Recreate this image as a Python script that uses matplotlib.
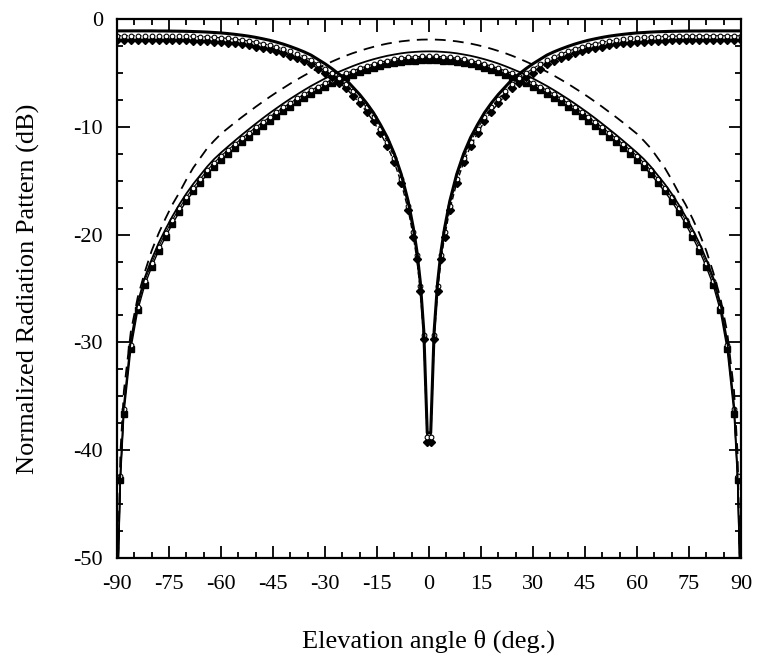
import matplotlib
matplotlib.use('Agg')
import matplotlib.pyplot as plt
from matplotlib.ticker import MultipleLocator

plt.rcParams['font.family'] = ['Liberation Serif', 'DejaVu Serif']
plt.rcParams['axes.unicode_minus'] = False

# The patterns are symmetric about broadside, so only 0..90 deg is listed.
dome_theta = [0, 2, 4, 6, 8, 10, 12, 14, 16, 18, 20, 22, 24, 26, 28, 30,
              32, 34, 36, 38, 40, 42, 44, 46, 48, 50, 52, 54, 56, 58, 60,
              62, 64, 66, 68, 70, 72, 74, 76, 78, 80, 82, 84, 86, 88, 89, 90]
dome_dashed = [-1.90, -1.91, -1.94, -2.00, -2.07, -2.17, -2.28, -2.42, -2.58, -2.76,
               -2.96, -3.17, -3.41, -3.67, -3.95, -4.24, -4.56, -4.89, -5.24, -5.61,
               -5.99, -6.40, -6.81, -7.24, -7.69, -8.15, -8.63, -9.11, -9.61, -10.13,
               -10.65, -11.3, -12.0, -12.9, -13.8, -14.9, -16.1, -17.2, -18.5, -19.9,
               -21.5, -23.5, -25.8, -29.0, -34.5, -40.2, -55.0]
dome_solid = [-3.00, -3.01, -3.05, -3.10, -3.18, -3.29, -3.41, -3.56, -3.73, -3.92,
              -4.13, -4.37, -4.63, -4.90, -5.20, -5.52, -5.86, -6.21, -6.59, -6.99,
              -7.40, -7.83, -8.28, -8.74, -9.22, -9.72, -10.23, -10.75, -11.29, -11.84,
              -12.40, -13.0, -13.7, -14.5, -15.3, -16.2, -17.2, -18.3, -19.5, -20.8,
              -22.3, -24.0, -26.3, -29.8, -35.8, -42.0, -55.0]
dome_open = [-3.45, -3.46, -3.50, -3.55, -3.63, -3.73, -3.85, -4.00, -4.17, -4.36,
             -4.57, -4.80, -5.05, -5.32, -5.62, -5.93, -6.26, -6.61, -6.98, -7.37,
             -7.78, -8.20, -8.64, -9.10, -9.57, -10.06, -10.56, -11.08, -11.61, -12.15,
             -12.70, -13.35, -14.05, -14.85, -15.65, -16.55, -17.55, -18.65, -19.85, -21.15,
             -22.65, -24.3, -26.7, -30.2, -36.2, -42.4, -55.0]
dome_filled = [-3.80, -3.81, -3.85, -3.90, -3.98, -4.08, -4.20, -4.35, -4.52, -4.71,
               -4.92, -5.15, -5.40, -5.67, -5.97, -6.28, -6.61, -6.96, -7.33, -7.72,
               -8.13, -8.55, -8.99, -9.45, -9.92, -10.41, -10.91, -11.43, -11.95, -12.50,
               -13.05, -13.7, -14.4, -15.2, -16.0, -16.9, -17.9, -19.0, -20.2, -21.5,
               -23.0, -24.7, -27.0, -30.6, -36.6, -42.8, -55.0]

null_theta = [0.5, 1.5, 2.5, 3.5, 4.5, 6, 8, 10, 12, 14, 16, 18, 20, 22, 24, 26,
              28, 30, 32, 34, 36, 38, 40, 42, 44, 46, 48, 50, 52, 54, 56, 58, 60,
              62, 64, 66, 68, 70, 72, 74, 76, 78, 80, 82, 84, 86, 88, 90]
null_solid = [-38.4, -28.9, -24.4, -21.5, -19.4, -16.9, -14.4, -12.5, -11.0, -9.8,
              -8.7, -7.8, -7.0, -6.3, -5.6, -5.1, -4.6, -4.15, -3.75, -3.35,
              -3.05, -2.79, -2.55, -2.33, -2.14, -1.97, -1.83, -1.70, -1.59, -1.50,
              -1.42, -1.35, -1.29, -1.25, -1.21, -1.18, -1.16, -1.14, -1.13, -1.12,
              -1.11, -1.11, -1.10, -1.10, -1.10, -1.10, -1.10, -1.10]
null_open = [-38.8, -29.3, -24.8, -21.9, -19.8, -17.3, -14.8, -12.9, -11.4, -10.2,
             -9.1, -8.2, -7.4, -6.7, -6.0, -5.5, -5.0, -4.6, -4.2, -3.8,
             -3.5, -3.24, -3.0, -2.78, -2.59, -2.42, -2.28, -2.15, -2.04, -1.95,
             -1.87, -1.80, -1.74, -1.70, -1.66, -1.63, -1.61, -1.59, -1.58, -1.57,
             -1.56, -1.56, -1.55, -1.55, -1.55, -1.55, -1.55, -1.55]
null_filled = [-39.2, -29.7, -25.2, -22.3, -20.2, -17.7, -15.2, -13.3, -11.8, -10.6,
               -9.5, -8.6, -7.8, -7.1, -6.4, -5.9, -5.4, -5.0, -4.6, -4.2,
               -3.9, -3.64, -3.4, -3.18, -2.99, -2.82, -2.68, -2.55, -2.44, -2.35,
               -2.27, -2.20, -2.14, -2.10, -2.06, -2.03, -2.01, -1.99, -1.98, -1.97,
               -1.96, -1.96, -1.95, -1.95, -1.95, -1.95, -1.95, -1.95]

x_ticks = [-90, -75, -60, -45, -30, -15, 0, 15, 30, 45, 60, 75, 90]
y_ticks = [0, -10, -20, -30, -40, -50]


def mirror(theta, vals):
    # reflect the 0..90 half onto -90..0, without doubling a point at 0
    k = 1 if theta[0] == 0 else 0
    th = [-t for t in theta[::-1]][:len(theta) - k] + list(theta)
    vv = list(vals[::-1])[:len(vals) - k] + list(vals)
    return th, vv


fig = plt.figure(figsize=(7.61, 6.63), dpi=100)
ax = fig.add_axes([0.1537, 0.1584, 0.82, 0.8129])

# dome shaped patterns
t, v = mirror(dome_theta, dome_filled)
ax.plot(t, v, color='black', lw=1.0, marker='s', ms=4.6, mfc='black', mec='black',
        markevery=slice(1, -1))
t, v = mirror(dome_theta, dome_open)
ax.plot(t, v, color='black', lw=0.8, marker='o', ms=3.4, mfc='white', mec='black',
        mew=0.8, markevery=slice(1, -1))
t, v = mirror(dome_theta, dome_solid)
ax.plot(t, v, color='black', lw=1.3)
t, v = mirror(dome_theta, dome_dashed)
ax.plot(t, v, color='black', lw=1.3, ls=(0, (6, 4)))

# patterns with a null at broadside
t, v = mirror(null_theta, null_filled)
ax.plot(t, v, color='black', lw=1.0, ls=(0, (4, 2)), marker='D', ms=4.0,
        mfc='black', mec='black')
t, v = mirror(null_theta, null_open)
ax.plot(t, v, color='black', lw=0.8, ls=(0, (4, 2)), marker='o', ms=3.4,
        mfc='white', mec='black', mew=0.8)
t, v = mirror(null_theta, null_solid)
ax.plot(t, v, color='black', lw=2.2)

ax.set_xlim(-90, 90)
ax.set_ylim(-50, 0)
ax.set_xticks(x_ticks)
ax.set_yticks(y_ticks)
ax.xaxis.set_minor_locator(MultipleLocator(5))
ax.yaxis.set_minor_locator(MultipleLocator(2.5))
ax.tick_params(which='both', direction='in', top=True, right=True,
               labelsize=16, width=1.3)
ax.tick_params(which='major', length=9)
ax.tick_params(which='minor', length=4)
ax.tick_params(axis='x', pad=12)
ax.tick_params(axis='y', pad=10)
for s in ax.spines.values():
    s.set_linewidth(1.6)

ax.set_xlabel('Elevation angle θ (deg.)', fontsize=19, labelpad=26)
ax.set_ylabel('Normalized Radiation Pattern (dB)', fontsize=19, labelpad=24)

fig.savefig('out.png', dpi=100)
